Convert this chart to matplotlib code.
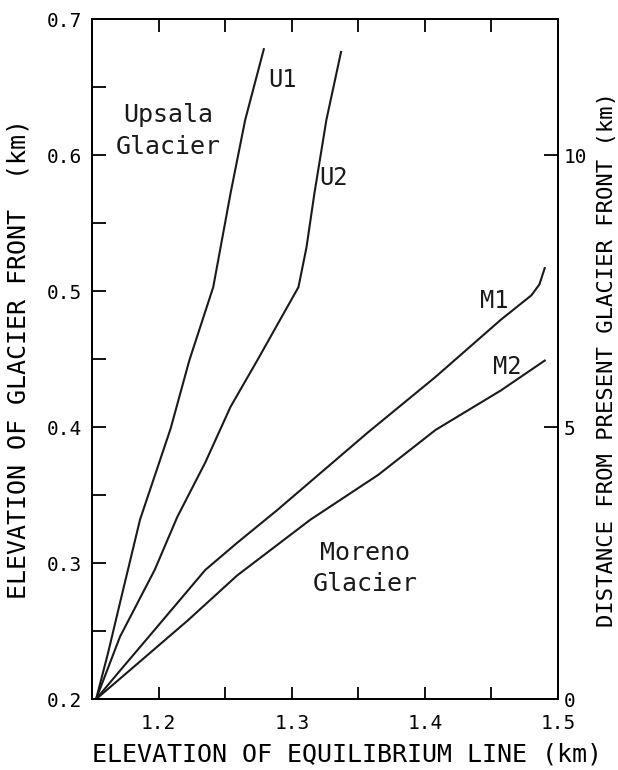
import matplotlib
matplotlib.use('Agg')
import matplotlib.pyplot as plt
from matplotlib.ticker import MultipleLocator, FuncFormatter

# Upsala Glacier curves (x: ELA in km, y: elevation of glacier front in km)
u1_x = [1.153, 1.162, 1.171, 1.186, 1.209, 1.223, 1.241, 1.254, 1.265, 1.279]
u1_y = [0.200, 0.234, 0.271, 0.332, 0.399, 0.449, 0.503, 0.572, 0.626, 0.678]
u2_x = [1.153, 1.171, 1.197, 1.214, 1.235, 1.254, 1.274, 1.305, 1.311, 1.317, 1.326, 1.337]
u2_y = [0.200, 0.246, 0.295, 0.334, 0.374, 0.415, 0.449, 0.503, 0.532, 0.572, 0.626, 0.676]

# Moreno Glacier curves
m1_x = [1.153, 1.171, 1.197, 1.235, 1.259, 1.289, 1.357, 1.408, 1.457, 1.480, 1.486, 1.490]
m1_y = [0.200, 0.221, 0.251, 0.295, 0.315, 0.339, 0.396, 0.437, 0.479, 0.497, 0.505, 0.517]
m2_x = [1.153, 1.184, 1.222, 1.259, 1.314, 1.365, 1.408, 1.457, 1.490]
m2_y = [0.200, 0.226, 0.258, 0.291, 0.332, 0.365, 0.398, 0.427, 0.449]

curves = [(u1_x, u1_y), (u2_x, u2_y), (m1_x, m1_y), (m2_x, m2_y)]
curve_labels = [('U1', 1.282, 0.655), ('U2', 1.321, 0.583),
                ('M1', 1.441, 0.493), ('M2', 1.451, 0.444)]
distance_ticks = [0, 5, 10]

plt.rcParams['font.family'] = 'DejaVu Sans Mono'

fig = plt.figure(figsize=(6.18, 7.70), dpi=100)
ax = fig.add_axes([0.149, 0.092, 0.754, 0.883])

for xs, ys in curves:
    ax.plot(xs, ys, color='#1a1a1a', lw=1.5, solid_joinstyle='round')

for text, x, y in curve_labels:
    ax.text(x, y, text, fontsize=17, ha='left', va='center', color='#1a1a1a')

ax.text(1.207, 0.618, 'Upsala\nGlacier', fontsize=18, ha='center', va='center',
        linespacing=1.4, color='#1a1a1a')
ax.text(1.355, 0.296, 'Moreno\nGlacier', fontsize=18, ha='center', va='center',
        linespacing=1.4, color='#1a1a1a')

ax.set_xlim(1.15, 1.5)
ax.set_ylim(0.2, 0.7)

ax.xaxis.set_major_locator(MultipleLocator(0.05))
ax.yaxis.set_major_locator(MultipleLocator(0.05))


def every_tenth(v, pos):
    k = round(v * 100)
    if k % 10 == 0 and k >= 120:
        return '%.1f' % v
    return ''


def every_tenth_y(v, pos):
    k = round(v * 100)
    if k % 10 == 0:
        return '%.1f' % v
    return ''


ax.xaxis.set_major_formatter(FuncFormatter(every_tenth))
ax.yaxis.set_major_formatter(FuncFormatter(every_tenth_y))
ax.tick_params(axis='x', direction='in', length=9, width=1.3, top=True,
               labelsize=14, pad=11)
ax.tick_params(axis='y', direction='in', length=10, width=1.3, right=False,
               labelsize=14, pad=7)
for s in ax.spines.values():
    s.set_linewidth(1.4)

ax.set_xlabel('ELEVATION OF EQUILIBRIUM LINE (km)', fontsize=18, labelpad=6)
ax.xaxis.set_label_coords(0.547, -0.064)
ax.set_ylabel('ELEVATION OF GLACIER FRONT  (km)', fontsize=18, labelpad=12)

ax2 = ax.twinx()
ax2.set_ylim(0, 12.5)
ax2.set_yticks(distance_ticks)
ax2.tick_params(axis='y', direction='in', length=10, width=1.3,
                labelsize=14, pad=4)
for s in ax2.spines.values():
    s.set_linewidth(1.4)
ax2.set_ylabel('DISTANCE FROM PRESENT GLACIER FRONT (km)', fontsize=16,
               labelpad=7)

fig.savefig('out.png', dpi=100, facecolor='white')
